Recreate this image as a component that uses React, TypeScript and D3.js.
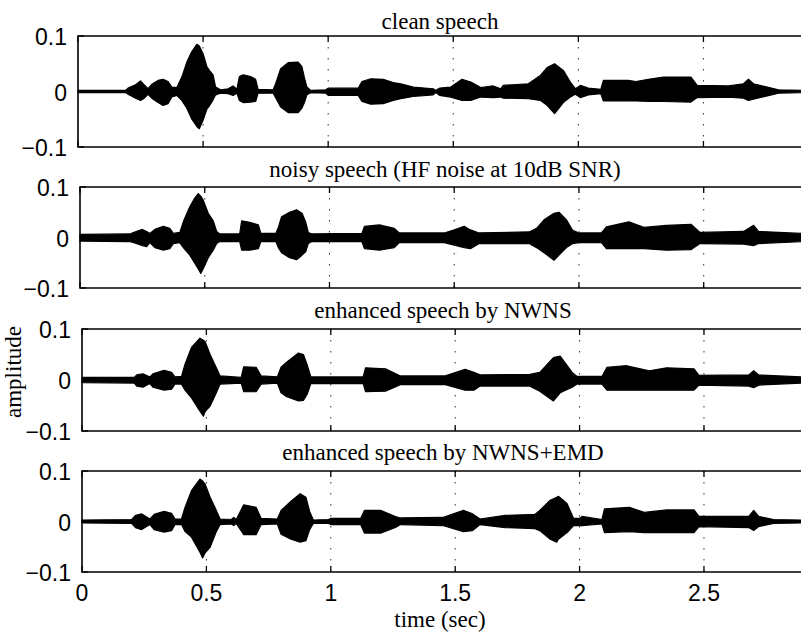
import React from 'react';
import * as d3 from 'd3';

// each row: time (sec), upper envelope, lower envelope
type Env = [number, number, number][];

const titles = [
  'clean speech',
  'noisy speech (HF noise at 10dB SNR)',
  'enhanced speech by NWNS',
  'enhanced speech by NWNS+EMD',
];
const yTicks = [-0.1, 0, 0.1];
const xTicks = [0, 0.5, 1, 1.5, 2, 2.5];
const tEnd = 2.89;

const clean: Env = [
  [0, 0.002, -0.002], [0.19, 0.002, -0.002], [0.2, 0.006, -0.005], [0.23, 0.012, -0.012],
  [0.25, 0.019, -0.016], [0.265, 0.012, -0.012], [0.28, 0.005, -0.005], [0.295, 0.013, -0.012],
  [0.32, 0.02, -0.02], [0.34, 0.022, -0.025], [0.36, 0.018, -0.022], [0.375, 0.008, -0.01],
  [0.395, 0.007, -0.007], [0.415, 0.026, -0.016], [0.435, 0.053, -0.03], [0.455, 0.072, -0.05],
  [0.475, 0.085, -0.063], [0.485, 0.082, -0.067], [0.5, 0.068, -0.052], [0.515, 0.045, -0.032],
  [0.525, 0.038, -0.026], [0.54, 0.03, -0.015], [0.55, 0.008, -0.006], [0.57, 0.003, -0.003],
  [0.6, 0.005, -0.004], [0.62, 0.01, -0.007], [0.635, 0.004, -0.003], [0.645, 0.027, -0.016],
  [0.66, 0.03, -0.02], [0.69, 0.027, -0.019], [0.71, 0.022, -0.018], [0.72, 0.004, -0.003],
  [0.78, 0.003, -0.003], [0.79, 0.014, -0.011], [0.81, 0.041, -0.028], [0.84, 0.052, -0.038],
  [0.88, 0.053, -0.038], [0.895, 0.045, -0.03], [0.905, 0.025, -0.02], [0.915, 0.008, -0.006],
  [0.93, 0.002, -0.002], [0.99, 0.003, -0.003], [1.0, 0.006, -0.007], [1.12, 0.006, -0.007],
  [1.135, 0.018, -0.018], [1.17, 0.023, -0.023], [1.22, 0.022, -0.022], [1.26, 0.016, -0.016],
  [1.29, 0.014, -0.013], [1.34, 0.008, -0.009], [1.42, 0.005, -0.006], [1.43, 0.002, -0.002],
  [1.445, 0.006, -0.007], [1.49, 0.008, -0.01], [1.535, 0.022, -0.016], [1.57, 0.017, -0.016],
  [1.61, 0.007, -0.01], [1.66, 0.01, -0.011], [1.69, 0.005, -0.01], [1.7, 0.011, -0.012],
  [1.8, 0.014, -0.013], [1.848, 0.029, -0.016], [1.875, 0.043, -0.025], [1.905, 0.05, -0.04],
  [1.94, 0.038, -0.02], [1.968, 0.017, -0.01], [1.988, 0.005, -0.005], [2.008, 0.011, -0.011],
  [2.04, 0.006, -0.006], [2.09, 0.004, -0.004], [2.1, 0.02, -0.017], [2.2, 0.02, -0.017],
  [2.23, 0.018, -0.017], [2.28, 0.022, -0.018], [2.34, 0.026, -0.018], [2.45, 0.026, -0.019],
  [2.475, 0.011, -0.011], [2.6, 0.01, -0.01], [2.66, 0.014, -0.012], [2.68, 0.022, -0.016],
  [2.7, 0.014, -0.014], [2.755, 0.008, -0.008], [2.8, 0.003, -0.003], [2.89, 0.002, -0.002],
];

const noisy: Env = [
  [0, 0.006, -0.007], [0.2, 0.007, -0.008], [0.214, 0.01, -0.01], [0.25, 0.016, -0.016],
  [0.267, 0.012, -0.018], [0.28, 0.008, -0.01], [0.3, 0.016, -0.02], [0.334, 0.022, -0.025],
  [0.36, 0.018, -0.022], [0.374, 0.008, -0.012], [0.4, 0.01, -0.01], [0.414, 0.031, -0.02],
  [0.44, 0.061, -0.035], [0.46, 0.078, -0.051], [0.474, 0.087, -0.062], [0.484, 0.082, -0.071],
  [0.494, 0.074, -0.062], [0.514, 0.048, -0.04], [0.534, 0.033, -0.025], [0.548, 0.012, -0.012],
  [0.56, 0.007, -0.008], [0.64, 0.007, -0.008], [0.648, 0.033, -0.025], [0.68, 0.03, -0.025],
  [0.715, 0.025, -0.022], [0.725, 0.008, -0.008], [0.785, 0.008, -0.008], [0.795, 0.02, -0.02],
  [0.808, 0.041, -0.03], [0.84, 0.05, -0.04], [0.868, 0.055, -0.044], [0.89, 0.048, -0.035],
  [0.905, 0.03, -0.028], [0.915, 0.01, -0.012], [0.93, 0.007, -0.008], [1.13, 0.008, -0.008],
  [1.14, 0.022, -0.022], [1.2, 0.025, -0.025], [1.26, 0.018, -0.02], [1.28, 0.009, -0.01],
  [1.46, 0.009, -0.01], [1.5, 0.015, -0.015], [1.54, 0.022, -0.02], [1.565, 0.015, -0.022],
  [1.6, 0.009, -0.012], [1.8, 0.011, -0.012], [1.83, 0.018, -0.02], [1.86, 0.035, -0.03],
  [1.9, 0.048, -0.045], [1.92, 0.05, -0.035], [1.95, 0.035, -0.02], [1.975, 0.014, -0.012],
  [2.0, 0.009, -0.01], [2.09, 0.009, -0.01], [2.11, 0.021, -0.022], [2.2, 0.031, -0.022],
  [2.26, 0.02, -0.022], [2.35, 0.024, -0.025], [2.45, 0.026, -0.024], [2.485, 0.01, -0.012],
  [2.66, 0.012, -0.013], [2.7, 0.024, -0.016], [2.72, 0.012, -0.012], [2.89, 0.008, -0.008],
];

const nwns: Env = [
  [0, 0.005, -0.005], [0.21, 0.005, -0.006], [0.22, 0.01, -0.012], [0.245, 0.012, -0.014],
  [0.273, 0.006, -0.007], [0.285, 0.012, -0.014], [0.33, 0.019, -0.02], [0.36, 0.015, -0.018],
  [0.374, 0.006, -0.008], [0.4, 0.007, -0.008], [0.414, 0.031, -0.02], [0.44, 0.064, -0.035],
  [0.474, 0.082, -0.061], [0.488, 0.078, -0.071], [0.495, 0.075, -0.062], [0.515, 0.05, -0.051],
  [0.54, 0.024, -0.025], [0.555, 0.008, -0.008], [0.64, 0.005, -0.006], [0.65, 0.026, -0.023],
  [0.7, 0.025, -0.023], [0.72, 0.008, -0.008], [0.785, 0.006, -0.006], [0.8, 0.025, -0.025],
  [0.82, 0.034, -0.032], [0.87, 0.053, -0.041], [0.89, 0.05, -0.04], [0.905, 0.03, -0.028],
  [0.92, 0.006, -0.007], [1.13, 0.006, -0.007], [1.14, 0.024, -0.023], [1.22, 0.022, -0.022],
  [1.28, 0.008, -0.009], [1.46, 0.008, -0.009], [1.54, 0.021, -0.02], [1.575, 0.015, -0.02],
  [1.6, 0.01, -0.012], [1.8, 0.011, -0.012], [1.84, 0.015, -0.022], [1.895, 0.044, -0.041],
  [1.922, 0.047, -0.025], [1.97, 0.015, -0.014], [1.99, 0.007, -0.008], [2.09, 0.007, -0.008],
  [2.11, 0.025, -0.02], [2.19, 0.028, -0.02], [2.28, 0.018, -0.02], [2.35, 0.024, -0.02],
  [2.46, 0.022, -0.02], [2.48, 0.009, -0.01], [2.68, 0.01, -0.012], [2.7, 0.018, -0.015],
  [2.72, 0.01, -0.01], [2.89, 0.006, -0.006],
];

const nwnsEmd: Env = [
  [0, 0.003, -0.003], [0.2, 0.004, -0.004], [0.215, 0.012, -0.012], [0.24, 0.015, -0.016],
  [0.273, 0.005, -0.006], [0.29, 0.014, -0.016], [0.33, 0.02, -0.021], [0.36, 0.016, -0.018],
  [0.374, 0.005, -0.006], [0.4, 0.005, -0.006], [0.414, 0.028, -0.02], [0.44, 0.061, -0.031],
  [0.474, 0.084, -0.061], [0.485, 0.08, -0.072], [0.495, 0.074, -0.062], [0.515, 0.048, -0.051],
  [0.54, 0.022, -0.02], [0.555, 0.005, -0.006], [0.6, 0.004, -0.005], [0.61, 0.008, -0.008],
  [0.62, 0.004, -0.004], [0.65, 0.033, -0.026], [0.7, 0.028, -0.026], [0.72, 0.006, -0.006],
  [0.785, 0.005, -0.005], [0.8, 0.022, -0.025], [0.84, 0.04, -0.035], [0.877, 0.055, -0.041],
  [0.9, 0.048, -0.038], [0.915, 0.02, -0.016], [0.93, 0.003, -0.004], [0.99, 0.004, -0.004],
  [1.0, 0.006, -0.006], [1.12, 0.006, -0.006], [1.135, 0.022, -0.023], [1.2, 0.022, -0.023],
  [1.26, 0.01, -0.012], [1.28, 0.007, -0.006], [1.45, 0.008, -0.008], [1.533, 0.022, -0.02],
  [1.57, 0.015, -0.018], [1.6, 0.005, -0.006], [1.7, 0.012, -0.012], [1.82, 0.014, -0.014],
  [1.84, 0.022, -0.018], [1.882, 0.042, -0.035], [1.908, 0.048, -0.041], [1.915, 0.05, -0.035],
  [1.95, 0.035, -0.022], [1.976, 0.006, -0.008], [2.0, 0.006, -0.008], [2.01, 0.01, -0.008],
  [2.09, 0.004, -0.005], [2.1, 0.025, -0.022], [2.2, 0.028, -0.02], [2.26, 0.018, -0.022],
  [2.35, 0.023, -0.022], [2.46, 0.023, -0.022], [2.48, 0.01, -0.01], [2.68, 0.01, -0.012],
  [2.7, 0.022, -0.018], [2.72, 0.01, -0.01], [2.78, 0.004, -0.004], [2.89, 0.003, -0.003],
];

const signals = [clean, noisy, nwns, nwnsEmd];

// panel boxes (the scan is slightly skewed, so each panel has its own frame)
const frames = [
  { top: 36, bottom: 147, left: 78, titleX: 440, titleY: 29 },
  { top: 187, bottom: 288, left: 80, titleX: 445, titleY: 177 },
  { top: 329, bottom: 431, left: 82, titleX: 443, titleY: 318 },
  { top: 471, bottom: 572, left: 82, titleX: 443, titleY: 460 },
];

const W = 801;
const H = 633;
const FS = 23;
const sans = '"Liberation Sans", Arial, Helvetica, sans-serif';
const serif = '"Liberation Serif", "Times New Roman", serif';
const fmtY = (v: number) => (v === 0 ? '0' : d3.format('.1f')(v));
const fmtX = d3.format('~g');

function Panel({ idx }: { idx: number }) {
  const f = frames[idx];
  const x = d3.scaleLinear().domain([0, tEnd]).range([f.left, W]);
  const y = d3.scaleLinear().domain([-0.1, 0.1]).range([f.bottom, f.top]);
  const area = d3
    .area<[number, number, number]>()
    .x(d => x(d[0]))
    .y0(d => y(d[2]))
    .y1(d => y(d[1]));
  const last = idx === frames.length - 1;
  return (
    <g>
      <text x={f.titleX} y={f.titleY} textAnchor="middle" fontFamily={serif} fontSize={FS}>
        {titles[idx]}
      </text>
      {xTicks.filter(t => t > 0).map(t => (
        <line key={'g' + t} x1={x(t)} x2={x(t)} y1={f.top} y2={f.bottom}
          stroke="#333" strokeWidth={1} strokeDasharray="1.5 9.5" />
      ))}
      <path d={area(signals[idx]) || ''} fill="#000" stroke="#000" strokeWidth={1.2} strokeLinejoin="round" />
      <path d={`M${W},${f.top}H${f.left}V${f.bottom}H${W}`} fill="none" stroke="#000" strokeWidth={1.6} />
      {xTicks.map(t => (
        <g key={'t' + t}>
          <line x1={x(t)} x2={x(t)} y1={f.bottom} y2={f.bottom - 6} stroke="#000" strokeWidth={1.3} />
          <line x1={x(t)} x2={x(t)} y1={f.top} y2={f.top + 6} stroke="#000" strokeWidth={1.3} />
          {last && (
            <text x={x(t)} y={601} textAnchor="middle" fontFamily={sans} fontSize={FS}>
              {fmtX(t)}
            </text>
          )}
        </g>
      ))}
      {yTicks.map(v => (
        <g key={'y' + v}>
          <line x1={f.left} x2={f.left + 6} y1={y(v)} y2={y(v)} stroke="#000" strokeWidth={1.3} />
          <text x={f.left - 11} y={y(v) + 9} textAnchor="end" fontFamily={sans} fontSize={FS}>
            {fmtY(v)}
          </text>
        </g>
      ))}
    </g>
  );
}

export default function App() {
  return (
    <svg width={W} height={H} style={{ position: 'absolute', left: 0, top: 0, background: '#fff' }}>
      <rect width={W} height={H} fill="#fff" />
      {frames.map((_, i) => (
        <Panel key={i} idx={i} />
      ))}
      <text x={440} y={627} textAnchor="middle" fontFamily={serif} fontSize={FS}>
        time (sec)
      </text>
      <text transform="translate(21,372) rotate(-90)" textAnchor="middle" fontFamily={serif} fontSize={FS}>
        amplitude
      </text>
    </svg>
  );
}
